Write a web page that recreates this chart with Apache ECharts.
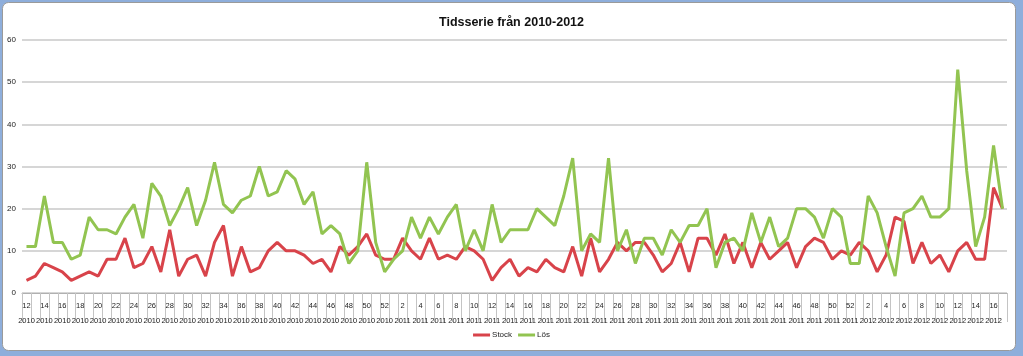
<!DOCTYPE html>
<html>
<head>
<meta charset="utf-8">
<script src="https://cdn.jsdelivr.net/npm/echarts@6/dist/echarts.min.js"></script>
<style>
html,body{margin:0;padding:0;background:#8eaedb;}
#c{width:1023px;height:356px;}
</style>
</head>
<body>
<div id="c"></div>
<script>
// Week numbers and years for each category
var weeks = [12,13,14,15,16,17,18,19,20,21,22,23,24,25,26,27,28,29,30,31,32,33,34,35,36,37,38,39,40,41,42,43,44,45,46,47,48,49,50,51,52,
  1,2,3,4,5,6,7,8,9,10,11,12,13,14,15,16,17,18,19,20,21,22,23,24,25,26,27,28,29,30,31,32,33,34,35,36,37,38,39,40,41,42,43,44,45,46,47,48,49,50,51,52,
  1,2,3,4,5,6,7,8,9,10,11,12,13,14,15,16,17];
var years = [2010,2010,2010,2010,2010,2010,2010,2010,2010,2010,2010,2010,2010,2010,2010,2010,2010,2010,2010,2010,2010,2010,2010,2010,2010,2010,2010,2010,2010,2010,2010,2010,2010,2010,2010,2010,2010,2010,2010,2010,2010,
  2011,2011,2011,2011,2011,2011,2011,2011,2011,2011,2011,2011,2011,2011,2011,2011,2011,2011,2011,2011,2011,2011,2011,2011,2011,2011,2011,2011,2011,2011,2011,2011,2011,2011,2011,2011,2011,2011,2011,2011,2011,2011,2011,2011,2011,2011,2011,2011,2011,2011,2011,2011,
  2012,2012,2012,2012,2012,2012,2012,2012,2012,2012,2012,2012,2012,2012,2012,2012,2012];
var stock = [3,4,7,6,5,3,4,5,4,8,8,13,6,7,11,5,15,4,8,9,4,12,16,4,11,5,6,
  10,12,10,10,9,7,8,5,11,9,11,14,9,8,8,13,10,8,13,8,9,8,11,10,8,3,6,8,
  4,6,5,8,6,5,11,4,13,5,8,12,10,12,12,9,5,7,12,5,13,13,9,14,7,12,6,
  12,8,10,12,6,11,13,12,8,10,9,12,10,5,9,18,17,7,12,7,9,5,10,12,8,8,25,20];
var los = [11,11,23,12,12,8,9,18,15,15,14,18,21,13,26,23,16,20,25,16,22,31,21,19,22,23,30,
  23,24,29,27,21,24,14,16,14,7,10,31,12,5,8,10,18,13,18,14,18,21,10,15,10,21,12,15,
  15,15,20,18,16,23,32,10,14,12,32,10,15,7,13,13,9,15,12,16,16,20,6,12,13,10,19,
  12,18,11,13,20,20,18,13,20,18,7,7,23,19,11,4,19,20,23,18,18,20,53,29,11,18,35,20];

var categories = weeks.map(function(w,i){ return w + '\n' + years[i]; });

var chart = echarts.init(document.getElementById('c'), null, {renderer:'canvas'});
chart.setOption({
  backgroundColor: '#8eaedb',
  animation: false,
  graphic: [{
    type: 'rect', z: -10, silent: true,
    shape: {x: 2.5, y: 2.5, width: 1013, height: 348, r: 6},
    style: {fill: '#ffffff', stroke: '#9a9a9a', lineWidth: 1}
  }],
  title: {
    text: 'Tidsserie från 2010-2012',
    left: 'center', top: 11,
    textStyle: {fontFamily: 'Liberation Sans', fontSize: 12.5, fontWeight: 'bold', color: '#111'}
  },
  legend: {
    bottom: 12, left: 'center',
    itemWidth: 17, itemHeight: 3, itemGap: 6,
    icon: 'rect',
    textStyle: {fontFamily: 'Liberation Sans', fontSize: 8, color: '#222', padding: [0, 0, 0, -3]},
    data: ['Stock', 'Lös']
  },
  grid: {left: 22, right: 16, top: 40, bottom: 63, containLabel: false},
  xAxis: {
    type: 'category',
    data: categories,
    boundaryGap: true,
    axisLine: {lineStyle: {color: '#b0b0b0', width: 1}},
    axisTick: {show: true, interval: 0, length: 29, lineStyle: {color: '#c4c4c4', width: 1}},
    axisLabel: {interval: function (i) { return i % 2 === 0; }, margin: 5, hideOverlap: false,
      fontFamily: 'Liberation Sans', fontSize: 7.5, lineHeight: 15, color: '#222'},
    splitLine: {show: false}
  },
  yAxis: {
    type: 'value',
    min: 0, max: 60, interval: 10,
    axisLine: {show: false},
    axisTick: {show: false},
    axisLabel: {margin: 6, fontFamily: 'Liberation Sans', fontSize: 8, color: '#222'},
    splitLine: {lineStyle: {color: '#c8c8c8', width: 1.5}}
  },
  series: [{
    name: 'Stock', type: 'line', data: stock,
    symbol: 'none', color: '#d8434a',
    lineStyle: {width: 3, color: '#d8434a'}
  }, {
    name: 'Lös', type: 'line', data: los,
    symbol: 'none', color: '#92c451',
    lineStyle: {width: 3, color: '#92c451'}
  }]
});
</script>
</body>
</html>
